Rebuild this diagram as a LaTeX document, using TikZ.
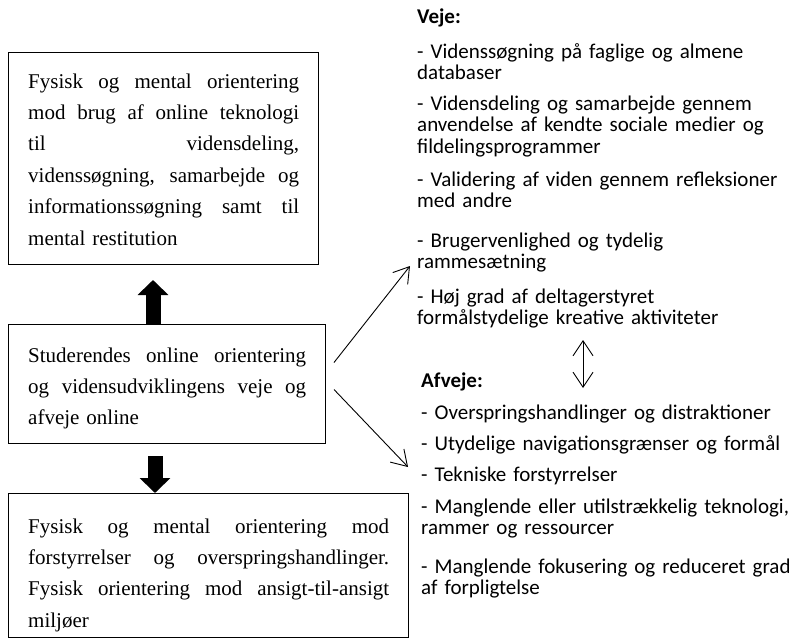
\documentclass[tikz,border=0pt]{standalone}
\usepackage{fontspec}
\setmainfont{Liberation Serif}
\newfontfamily\listfont{Carlito}
\usetikzlibrary{arrows.meta}

% one justified line of a given width (font interword glue, so it can stretch)
\newcommand\jline[2]{{\spaceskip=0pt\xspaceskip=0pt\makebox[#1][s]{#2}}}

\begin{document}
\begin{tikzpicture}[x=1pt,y=-1pt,
  frame/.style={draw, line width=1pt, anchor=north west, inner sep=0pt},
  boxtext/.style={anchor=base west, inner sep=0pt, align=left,
    font=\fontsize{21}{31.4}\selectfont},
  listtext/.style={anchor=base west, inner sep=0pt, align=left, text width=372pt,
    font=\listfont\fontsize{21}{21.7}\selectfont},
  listhead/.style={anchor=base west, inner sep=0pt,
    font=\listfont\bfseries\fontsize{21}{21.7}\selectfont},
  blockarrow/.style={line width=15pt, -{Triangle[width=30pt,length=15pt]}},
  thinarrow/.style={line width=0.9pt, -{Straight Barb[length=15pt,width=19pt,line width=0.9pt]}},
  botharrow/.style={line width=0.9pt, {Straight Barb[length=15pt,width=20pt,line width=0.9pt]}-{Straight Barb[length=15pt,width=20pt,line width=0.9pt]}}]

\useasboundingbox (0,0) rectangle (789,640);

% the three boxes on the left
\node[frame, minimum width=310pt, minimum height=212pt] (b1) at (8,52) {};
\node[frame, minimum width=317pt, minimum height=119pt] (b2) at (8,324) {};
\node[frame, minimum width=400pt, minimum height=144pt] (b3) at (8,493) {};

\node[boxtext, text width=271pt] (t1) at (28,88) {%
  \jline{271pt}{Fysisk og mental orientering}\\
  \jline{271pt}{mod brug af online teknologi}\\
  \jline{271pt}{til vidensdeling,}\\
  \jline{271pt}{videnssøgning, samarbejde og}\\
  \jline{271pt}{informationssøgning samt til}\\
  mental restitution};

\node[boxtext, text width=278pt] (t2) at (28,362) {%
  \jline{278pt}{Studerendes online orientering}\\
  \jline{278pt}{og vidensudviklingens veje og}\\
  afveje online};

\node[boxtext, text width=361pt] (t3) at (28,533) {%
  \jline{361pt}{Fysisk og mental orientering mod}\\
  \jline{361pt}{forstyrrelser og overspringshandlinger.}\\
  \jline{361pt}{Fysisk orientering mod ansigt-til-ansigt}\\
  miljøer};

% block arrows between the boxes
\draw[blockarrow, shorten >=15pt] ([xshift=145pt]b2.north west) -- ([xshift=145pt]b2.north west |- b1.south);
\draw[blockarrow, shorten <=12pt] ([xshift=147pt]b2.south west) -- ([xshift=147pt]b2.south west |- b3.north);

% lists on the right
\node[listhead] (vh) at (417,23) {Veje:};
\node[listtext] (v1) at (417,58) {- Videnssøgning på faglige og almene\\databaser};
\node[listtext] (v2) at (417,110) {- Vidensdeling og samarbejde gennem\\anvendelse af kendte sociale medier og\\fildelingsprogrammer};
\node[listtext] (v3) at (417,186) {- Validering af viden gennem refleksioner\\med andre};
\node[listtext] (v4) at (417,247) {- Brugervenlighed og tydelig\\rammesætning};
\node[listtext] (v5) at (417,303) {- Høj grad af deltagerstyret\\formålstydelige kreative aktiviteter};

\node[listhead] (ah) at (421,387) {Afveje:};
\node[listtext] (a1) at (421,419) {- Overspringshandlinger og distraktioner};
\node[listtext] (a2) at (421,450) {- Utydelige navigationsgrænser og formål};
\node[listtext] (a3) at (421,481) {- Tekniske forstyrrelser};
\node[listtext] (a4) at (421,513) {- Manglende eller utilstrækkelig teknologi,\\rammer og ressourcer};
\node[listtext] (a5) at (421,573) {- Manglende fokusering og reduceret grad\\af forpligtelse};

% thin connectors
\coordinate (vtip) at (410,266);
\coordinate (atip) at (408,467);
\coordinate (dtop) at (583,340);
\coordinate (dbot) at (583,388);
\draw[thinarrow] ([shift={(8,-21.5)}]b2.east) -- (vtip);
\draw[thinarrow] ([shift={(8,5.5)}]b2.east) -- (atip);
\draw[botharrow] (dtop) -- (dbot);
\end{tikzpicture}
\end{document}
